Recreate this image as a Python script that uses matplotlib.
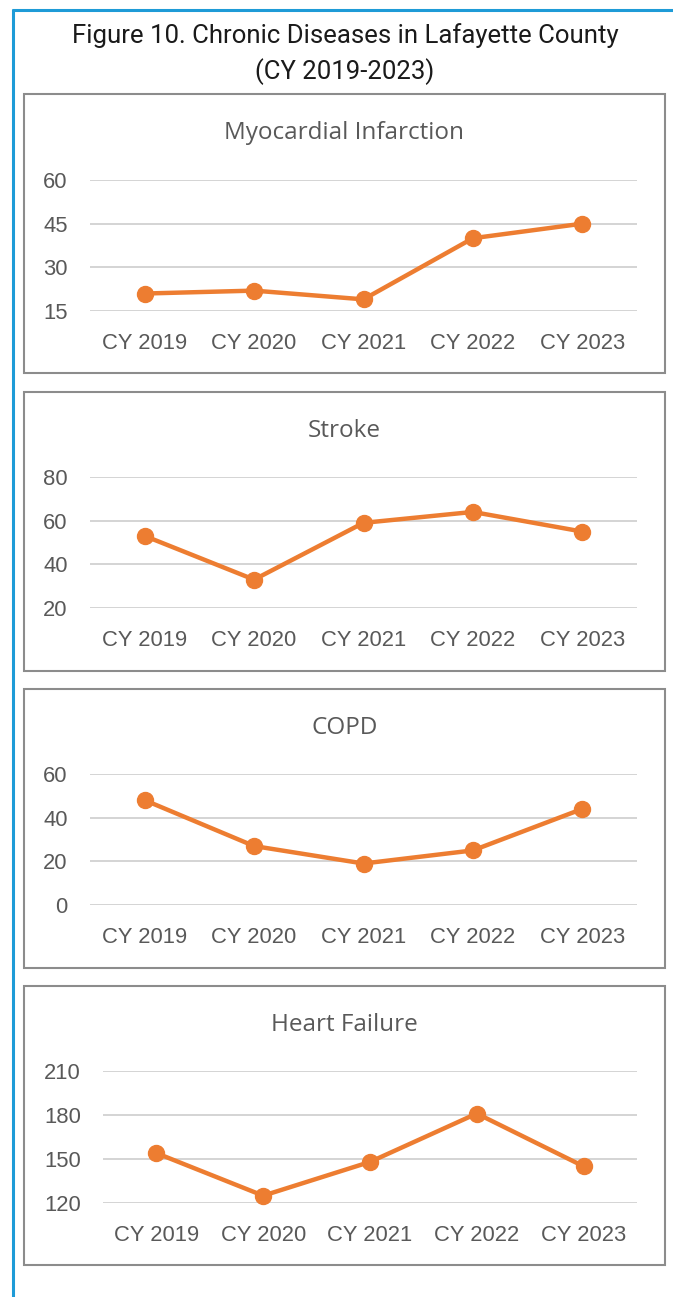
import matplotlib
matplotlib.use("Agg")
import matplotlib.pyplot as plt
from matplotlib.patches import Rectangle
from matplotlib.lines import Line2D

years = ["CY 2019", "CY 2020", "CY 2021", "CY 2022", "CY 2023"]
titles = ["Myocardial Infarction", "Stroke", "COPD", "Heart Failure"]
mi = [21, 22, 19, 40, 45]
stroke = [53, 33, 59, 64, 55]
copd = [48, 27, 19, 25, 44]
hf = [154, 125, 148, 181, 145]
series = [mi, stroke, copd, hf]
yticks = [[15, 30, 45, 60], [20, 40, 60, 80], [0, 20, 40, 60], [120, 150, 180, 210]]

W, H = 673, 1297
fig = plt.figure(figsize=(W / 100, H / 100), dpi=100)
fig.patch.set_facecolor("white")

def fx(x):
    return x / W

def fy(y):
    return 1 - y / H

blue = "#1E9BD7"
fig.add_artist(Line2D([fx(13), fx(13)], [fy(9), fy(1297)], color=blue, lw=2.2, solid_capstyle="butt"))
fig.add_artist(Line2D([fx(12), fx(673)], [fy(10), fy(10)], color=blue, lw=2.2, solid_capstyle="butt"))

fig.text(fx(345), fy(36), "Figure 10. Chronic Diseases in Lafayette County",
         ha="center", va="center", fontsize=18.5, color="#1a1a1a", family="Roboto")
fig.text(fx(345), fy(72), "(CY 2019-2023)", ha="center", va="center",
         fontsize=18.5, color="#1a1a1a", family="Roboto")

box_tops = [94, 392, 689, 986]
box_h = 279
grid_top = [180, 477, 774, 1071]
grid_bot = [311, 608, 905, 1203]
plot_left = [90, 90, 90, 103]
plot_right = 637
orange = "#ED7D31"
gray = "#595959"

for i in range(4):
    t = box_tops[i]
    fig.add_artist(Rectangle((fx(24), fy(t + box_h)), fx(665) - fx(24), box_h / H,
                             fill=False, edgecolor="#8C8C8C", lw=1.5))
    fig.text(fx(344.5), fy(t + 39), titles[i], ha="center", va="center",
             fontsize=17.5, color=gray, family="Open Sans")
    ax = fig.add_axes([fx(plot_left[i]), fy(grid_bot[i]),
                       fx(plot_right) - fx(plot_left[i]), (grid_bot[i] - grid_top[i]) / H])
    x = list(range(len(years)))
    ax.plot(x, series[i], color=orange, lw=3.2, marker="o", markersize=11.5,
            solid_capstyle="round", zorder=3, clip_on=False)
    ax.set_xlim(-0.5, 4.5)
    ax.set_ylim(yticks[i][0], yticks[i][-1])
    ax.set_yticks(yticks[i])
    ax.set_xticks(x)
    ax.set_xticklabels(years)
    for s in ax.spines.values():
        s.set_visible(False)
    ax.grid(axis="y", color="#D4D4D4", lw=1.4)
    ax.set_axisbelow(True)
    ax.tick_params(axis="both", length=0, labelsize=15.8, labelcolor=gray)
    ax.tick_params(axis="y", pad=16)
    ax.tick_params(axis="x", pad=16)
    for lab in ax.get_xticklabels() + ax.get_yticklabels():
        lab.set_family("Liberation Sans")
    ax.set_facecolor("none")

fig.savefig("out.png", dpi=100, facecolor="white")
